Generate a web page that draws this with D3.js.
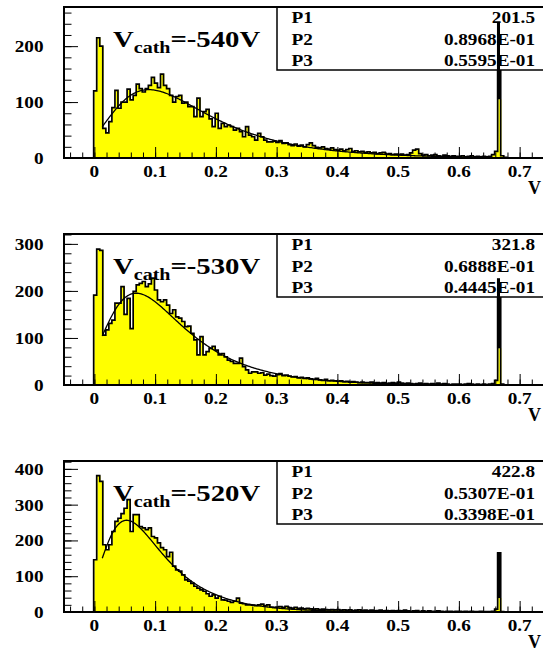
<!DOCTYPE html>
<html><head><meta charset="utf-8">
<script src="https://cdn.jsdelivr.net/npm/d3@7"></script>
<style>
html,body{margin:0;padding:0;background:#fff;overflow:hidden}
</style></head><body>
<svg id="c" width="543" height="654"></svg>
<script>
// ---------------- data ----------------
const binWidth = 0.005;           // histogram bin width (bins start at 0)
const panelNames = ["-540V", "-530V", "-520V"];

const counts540 = [
  120,215,200,53,45,65,90,121,89,100,
  100,123,104,112,132,124,118,124,130,144,
  134,126,150,130,124,112,100,110,112,98,
  100,92,92,74,107,74,83,87,70,56,
  80,53,62,56,59,56,50,53,47,38,
  56,41,38,32,44,38,32,29,29,30,
  28,31,26,27,24,22,25,21,23,20,
  24,27,22,19,18,20,17,16,18,15,
  14,16,13,15,17,12,13,11,12,10,
  11,9,10,8,9,10,7,8,6,7,
  6,7,5,6,9,14,16,8,5,6,
  4,5,6,4,3,5,4,3,4,3,
  3,4,2,3,4,2,3,2,3,2,
  3,6,12,105,4,1,0,0,0,0];

const counts530 = [
  191,289,286,106,117,131,138,174,174,209,
  150,184,120,199,213,216,220,209,215,227,
  202,181,177,181,170,152,160,145,142,135,
  124,125,110,96,64,103,64,71,78,82,
  74,64,67,60,53,50,46,46,57,39,
  32,25,28,28,25,26,21,23,20,19,
  22,24,20,21,19,17,18,15,16,14,
  15,13,12,14,11,10,12,9,10,9,
  8,9,7,8,6,7,6,5,6,5,
  5,6,4,5,4,5,3,4,5,4,
  6,4,3,4,3,2,3,4,2,3,
  2,3,2,4,2,3,2,1,2,2,
  2,1,2,3,2,1,2,1,2,1,
  2,3,10,78,2,0,0,0,0,0];

const counts520 = [
  146,381,365,188,174,188,225,253,262,275,
  290,314,225,272,272,239,235,230,235,211,
  207,193,180,174,155,167,128,118,114,104,
  90,86,80,72,67,62,58,51,44,48,
  39,44,34,33,30,27,30,39,25,23,
  20,20,19,18,20,22,18,20,14,13,
  14,15,13,16,12,11,13,10,11,9,
  10,9,8,9,7,8,7,6,7,6,
  7,5,6,5,6,4,5,6,4,5,
  4,5,3,4,5,3,4,3,4,3,
  4,3,5,3,2,3,4,2,3,2,
  3,2,2,3,2,1,2,2,1,2,
  2,1,2,1,2,1,1,2,1,1,
  1,2,8,39,1,0,0,0,0,0];

const countsList = [counts540, counts530, counts520];
const spikeBinStart = 0.665;              // narrow calibration peak
const spikeOutline = [243, 227, 165];     // height of its black outline

// fit parameters (stat box)
const fitP1 = [201.5, 321.8, 422.8];
const fitP2 = [0.08968, 0.06888, 0.05307];
const fitP3 = [0.05595, 0.04445, 0.03398];
const p1Text = ["201.5", "321.8", "422.8"];
const p2Text = ["0.8968E-01", "0.6888E-01", "0.5307E-01"];
const p3Text = ["0.5595E-01", "0.4445E-01", "0.3398E-01"];
const fitRange = [0.013, 0.65];

const yMax = [270, 321, 422];
const yTickLabels = [[0,100,200],[0,100,200,300],[0,100,200,300,400]];
const xTickLabels = [0,0.1,0.2,0.3,0.4,0.5,0.6,0.7];
const xDomain = [-0.05, 0.75];

// ---------------- layout ----------------
const FONT = "'Liberation Serif', 'Times New Roman', Times, serif";
const svg = d3.select("#c");
const L = 64, R = 550, panelTops = [7, 234, 461], panelH = 151;
const SX = 1.2; // horizontal stretch of the original fonts
const x = d3.scaleLinear().domain(xDomain).range([L, R]);

function stext(g, tx, ty, str, size, anchor, sx) {
  return g.append("text")
    .attr("transform", `translate(${tx},${ty}) scale(${sx || SX},1)`)
    .attr("text-anchor", anchor || "start")
    .attr("font-family", FONT)
    .attr("font-weight", "bold")
    .attr("font-size", size)
    .attr("fill", "#000")
    .text(str);
}

panelNames.forEach((name, p) => {
  const top = panelTops[p], bottom = top + panelH;
  const counts = countsList[p];
  const y = d3.scaleLinear().domain([0, yMax[p]]).range([bottom, top]);
  const g = svg.append("g");

  const clip = "clip" + p;
  svg.append("clipPath").attr("id", clip).append("rect")
    .attr("x", L).attr("y", top).attr("width", R - L).attr("height", panelH);
  const gc = g.append("g").attr("clip-path", `url(#${clip})`);

  const spikeIdx = Math.round(spikeBinStart / binWidth);
  const pts = counts.map((c, i) => [i * binWidth, c]);
  pts.push([counts.length * binWidth, 0]);

  // yellow fill
  gc.append("path")
    .attr("d", d3.area().x(d => x(d[0])).y0(y(0)).y1(d => y(d[1])).curve(d3.curveStepAfter)(pts))
    .attr("fill", "#ffff00");

  // black outline
  const opts = [[0, 0]].concat(pts.map((d, i) => i === spikeIdx ? [d[0], spikeOutline[p]] : d));
  gc.append("path")
    .attr("d", d3.line().x(d => x(d[0])).y(d => y(d[1])).curve(d3.curveStepAfter)(opts))
    .attr("fill", "none").attr("stroke", "#000").attr("stroke-width", 1.7)
    .attr("transform", "translate(-0.7,0)");

  // fit curve (PAW landau approximation)
  const fx = d3.range(fitRange[0], fitRange[1], 0.002);
  const fit = fx.map(v => {
    const lam = (v - fitP2[p]) / fitP3[p];
    return [v, fitP1[p] * Math.exp(-0.5 * (lam + Math.exp(-lam)))];
  });
  gc.append("path")
    .attr("d", d3.line().x(d => x(d[0])).y(d => y(d[1])).curve(d3.curveLinear)(fit))
    .attr("fill", "none").attr("stroke", "#000").attr("stroke-width", 1.3);

  // stat box
  const bx = 277, bh = 63;
  g.append("rect").attr("x", bx).attr("y", top).attr("width", R - bx).attr("height", bh)
    .attr("fill", "#fff").attr("stroke", "#000").attr("stroke-width", 1.5);
  const rowsY = [16, 37.5, 58.5];
  [["P1", p1Text[p]], ["P2", p2Text[p]], ["P3", p3Text[p]]].forEach((r, k) => {
    stext(g, 291.5, top + rowsY[k], r[0], 16, "start");
    stext(g, 535, top + rowsY[k], r[1], 16, "end");
  });

  // spike black bar (drawn over the box, as in the original)
  g.append("rect")
    .attr("x", x(spikeBinStart) - 1.4).attr("width", x(spikeBinStart + binWidth) - x(spikeBinStart))
    .attr("y", y(spikeOutline[p])).attr("height", y(counts[spikeIdx]) - y(spikeOutline[p]))
    .attr("fill", "#000");

  // axes ticks (inside the frame)
  const xMinor = d3.range(-0.04, 0.7501, 0.02);
  g.append("g").attr("transform", `translate(0,${bottom})`)
    .call(d3.axisBottom(x).tickValues(xMinor).tickSize(-5.5).tickFormat(""))
    .call(a => a.select(".domain").remove());
  const ax = g.append("g").attr("transform", `translate(0,${bottom})`)
    .call(d3.axisBottom(x).tickValues(xTickLabels).tickSize(-11).tickFormat(d => d === 0 ? "0" : d3.format(".1f")(d)))
    .call(a => a.select(".domain").remove());
  ax.selectAll("text").remove();
  xTickLabels.forEach(v => stext(g, x(v), bottom + 18.7, v === 0 ? "0" : d3.format(".1f")(v), 16, "middle"));

  const yMinor = d3.range(0, yMax[p] + 0.1, 20);
  g.append("g").attr("transform", `translate(${L},0)`)
    .call(d3.axisLeft(y).tickValues(yMinor).tickSize(-7.5).tickFormat(""))
    .call(a => a.select(".domain").remove());
  const ay = g.append("g").attr("transform", `translate(${L},0)`)
    .call(d3.axisLeft(y).tickValues(yTickLabels[p]).tickSize(-14))
    .call(a => a.select(".domain").remove());
  ay.selectAll("text").remove();
  yTickLabels[p].forEach(v => stext(g, 43.5, y(v) + 6, String(v), 16, "end"));
  g.selectAll(".tick line").attr("stroke", "#000").attr("stroke-width", 1);

  // frame
  g.append("rect").attr("x", L).attr("y", top).attr("width", R - L).attr("height", panelH)
    .attr("fill", "none").attr("stroke", "#000").attr("stroke-width", 2);

  // V_cath label
  const t = g.append("text")
    .attr("transform", `translate(113,${top + 40}) scale(1.25,1)`)
    .attr("font-family", FONT).attr("font-weight", "bold").attr("fill", "#000")
    .attr("font-size", 23);
  t.append("tspan").text("V");
  t.append("tspan").attr("dy", 6).attr("font-size", 16).text("cath");
  t.append("tspan").attr("dy", -6).text("=" + name);

  // axis title at the right edge
  stext(g, 528, top + 187, "V", 18, "start", 1.0);
});
</script></body></html>
